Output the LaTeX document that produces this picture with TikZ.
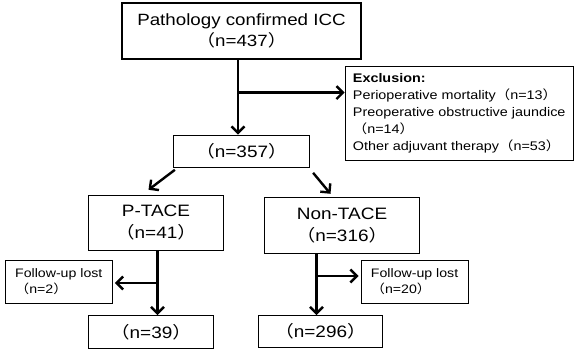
\documentclass[tikz,border=0pt]{standalone}
\usepackage{fontspec}
\setmainfont{Liberation Sans}[FakeStretch=1.15]
\newfontfamily\cjk{Noto Sans CJK SC}[FakeStretch=1.15]
\usepackage{tikz}
\usetikzlibrary{positioning}
\usetikzlibrary{arrows.meta}
\newcommand{\fwl}{{\cjk （}}
\newcommand{\fwr}{{\cjk ）}}

\begin{document}
\begin{tikzpicture}[x=1pt, y=1pt,
    box/.style={draw, line width=1.2pt, inner sep=0pt, align=center},
    arr/.style={line width=2.4pt, -{Straight Barb[length=6.5pt,width=13pt]}},
    big/.style={font=\fontsize{16.5pt}{22pt}\selectfont},
    small/.style={font=\fontsize{12.3pt}{16pt}\selectfont}]
            \useasboundingbox (0,0) rectangle (578,-351);
            % boxes
            \node [box, minimum width=239pt, minimum height=56pt, font=\fontsize{16.3pt}{21pt}\selectfont] (top) at (241.5,-31) {Pathology confirmed ICC\\\fwl n=437\fwr};
            \node [box, big, minimum width=136pt, minimum height=32pt, below=75pt of top] (n357) {\fwl n=357\fwr};
            \node [box, align=left, minimum width=228pt, minimum height=94pt, below right=6pt and -17pt of top.south east,
                font=\fontsize{12.5pt}{17.2pt}\selectfont] (excl) {\textbf{Exclusion:}\\Perioperative mortality\fwl n=13\fwr\\Preoperative obstructive jaundice\\\fwl n=14\fwr\\Other adjuvant therapy\fwl n=53\fwr};
            \node [box, big, minimum width=135pt, minimum height=55pt, below=27pt of n357, xshift=-85.5pt] (ptace) {P-TACE\\\fwl n=41\fwr};
            \node [box, big, minimum width=155pt, minimum height=56pt, below=29pt of n357, xshift=100.5pt] (nontace) {Non-TACE\\\fwl n=316\fwr};
            \node [box, small, align=left, minimum width=107pt, minimum height=43pt, below left=9pt and -25pt of ptace.south west] (lostl) {Follow-up lost\\\fwl n=2\fwr\hspace*{28pt}};
            \node [box, small, align=left, minimum width=107pt, minimum height=43pt, below right=6pt and 18.5pt of nontace.south] (lostr) {Follow-up lost\\\fwl n=20\fwr\hspace*{21pt}};
            \node [box, big, minimum width=125pt, minimum height=33pt, below=64pt of ptace, xshift=-5pt] (n39) {\fwl n=39\fwr};
            \node [box, big, minimum width=124pt, minimum height=32pt, below=61pt of nontace, xshift=-21.5pt] (n296) {\fwl n=296\fwr};
            % arrows
            \coordinate (b1) at ([xshift=-3.5pt, yshift=-33pt]top.south);
            \draw [arr] ([xshift=-3.5pt]top.south) -- ([xshift=-3.5pt]top.south |- n357.north);
            \draw [arr] (b1) -- (b1 -| excl.west);
            \draw [arr] ([xshift=2pt, yshift=-2pt]n357.south west) -- ([xshift=-7.5pt, yshift=5pt]ptace.north);
            \draw [arr] ([xshift=3pt, yshift=-5pt]n357.south east) -- ([xshift=-11.5pt, yshift=3pt]nontace.north);
            \coordinate (b2) at ([xshift=1.5pt, yshift=-32pt]ptace.south);
            \draw [arr] ([xshift=1.5pt]ptace.south) -- ([xshift=1.5pt]ptace.south |- n39.north);
            \draw [arr, shorten >=2pt] (b2) -- (b2 -| lostl.east);
            \coordinate (b3) at ([xshift=-25.5pt, yshift=-22pt]nontace.south);
            \draw [arr] ([xshift=-25.5pt]nontace.south) -- ([xshift=-25.5pt]nontace.south |- n296.north);
            \draw [arr, shorten >=2pt] (b3) -- (b3 -| lostr.west);
\end{tikzpicture}
\end{document}
